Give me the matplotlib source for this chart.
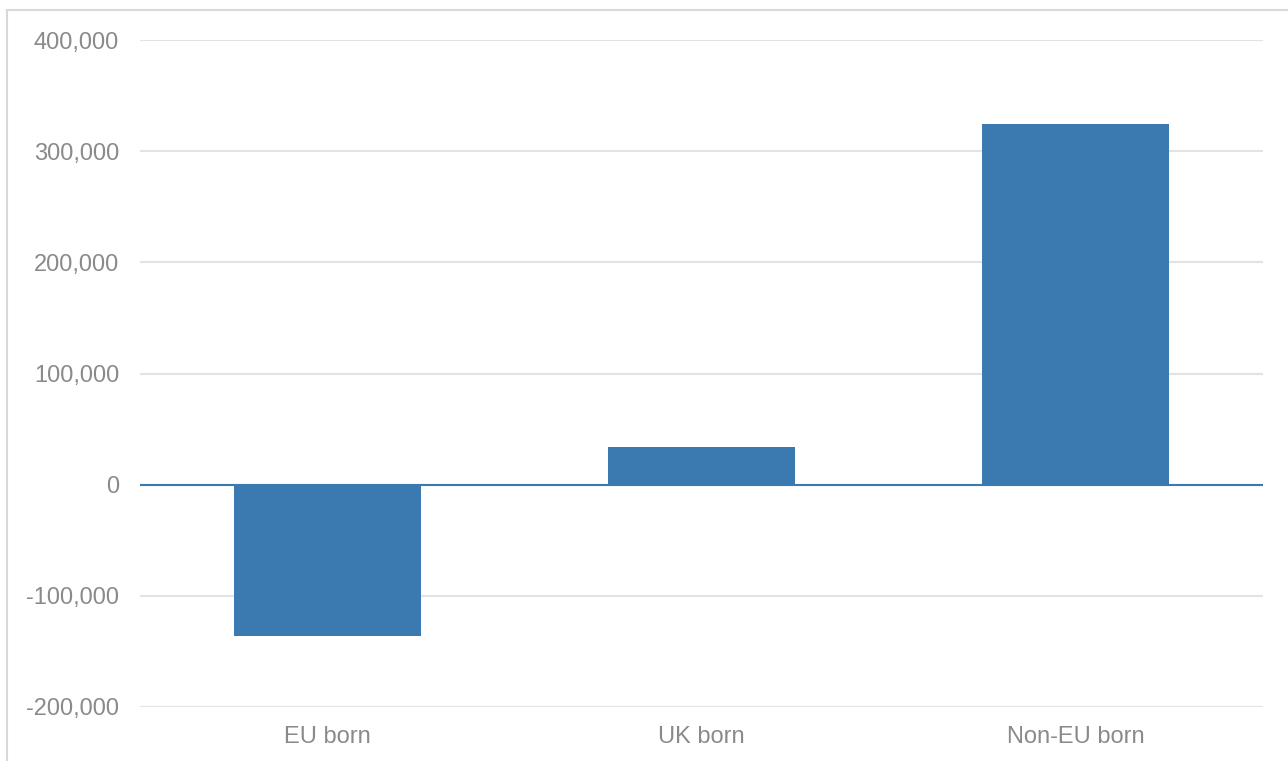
import matplotlib
matplotlib.use("Agg")
from matplotlib import pyplot as plt
from matplotlib.patches import Rectangle
from matplotlib.ticker import FuncFormatter

# net change by country of birth
groups = ["EU born", "UK born", "Non-EU born"]
change = [-136000, 34000, 324000]
y_ticks = [-200000, -100000, 0, 100000, 200000, 300000, 400000]

bar_col = "#3a7ab0"
grid_col = "#e3e3e3"
text_col = "#8a8a8a"

plt.rcParams["font.family"] = ["Liberation Sans", "DejaVu Sans"]

W, H = 1288, 761
fig = plt.figure(figsize=(W / 100, H / 100), dpi=100)
ax = fig.add_axes([140 / W, (H - 707) / H, (1263 - 140) / W, (707 - 40) / H])

# chart frame (left and top edges only show)
fig.patches.append(Rectangle((7 / W, -0.1), 1.2, (H - 10) / H + 0.1, transform=fig.transFigure,
                             fill=False, edgecolor="#d9d9d9", linewidth=1.5, zorder=0))

x = list(range(len(groups)))
ax.bar(x, change, width=0.5, color=bar_col, zorder=3)
ax.axhline(0, color=bar_col, linewidth=1.5, zorder=4)

ax.set_xlim(-0.5, len(groups) - 0.5)
ax.set_ylim(y_ticks[0], y_ticks[-1])
ax.set_yticks(y_ticks)
ax.yaxis.set_major_formatter(FuncFormatter(lambda v, p: f"{int(v):,}"))
ax.set_xticks(x)
ax.set_xticklabels(groups)
ax.grid(axis="y", color=grid_col, linewidth=1.5, zorder=0)
ax.set_axisbelow(True)

for s in ax.spines.values():
    s.set_visible(False)
ax.tick_params(axis="both", length=0, labelsize=17, labelcolor=text_col)
ax.tick_params(axis="y", pad=15)
ax.tick_params(axis="x", pad=14)

fig.savefig("out.png", dpi=100)
